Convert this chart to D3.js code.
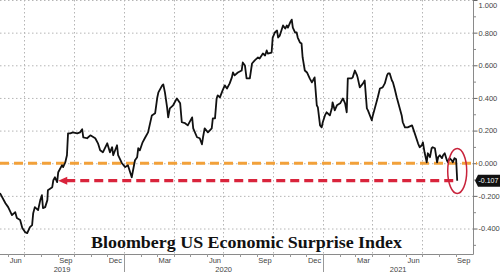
<!DOCTYPE html>
<html>
<head>
<meta charset="utf-8">
<script src="https://cdn.jsdelivr.net/npm/d3@7"></script>
<style>
  body { margin: 0; background: #fff; }
  svg { display: block; }
</style>
</head>
<body>
<div id="chart"></div>
<script>
// series
const dates = [
  "2019-05-18","2019-05-28","2019-06-02","2019-06-09","2019-06-15","2019-06-18","2019-06-24","2019-06-28",
  "2019-07-03","2019-07-07","2019-07-12","2019-07-16","2019-07-18","2019-07-21","2019-07-27","2019-07-31",
  "2019-08-03","2019-08-05","2019-08-09","2019-08-13","2019-08-14","2019-08-22","2019-08-24","2019-08-27",
  "2019-08-31","2019-09-02","2019-09-09","2019-09-11","2019-09-15","2019-09-18","2019-09-20","2019-09-24",
  "2019-09-29","2019-10-07","2019-10-12","2019-10-16","2019-10-18","2019-10-25","2019-10-31","2019-11-09",
  "2019-11-14","2019-11-18","2019-11-23","2019-12-01","2019-12-06","2019-12-10","2019-12-12","2019-12-19",
  "2019-12-21","2019-12-28","2020-01-03","2020-01-08","2020-01-15","2020-01-21","2020-01-25","2020-01-27",
  "2020-01-30","2020-02-04","2020-02-08","2020-02-14","2020-02-21","2020-02-27","2020-03-02","2020-03-04",
  "2020-03-11","2020-03-13","2020-03-16","2020-03-20","2020-03-22","2020-03-25","2020-03-31","2020-04-07",
  "2020-04-13","2020-04-16","2020-04-22","2020-04-27","2020-05-05","2020-05-07","2020-05-14","2020-05-19",
  "2020-05-23","2020-05-25","2020-05-28","2020-06-03","2020-06-10","2020-06-12","2020-06-16","2020-06-19",
  "2020-06-21","2020-06-25","2020-06-30","2020-07-04","2020-07-08","2020-07-13","2020-07-17","2020-07-19",
  "2020-07-22","2020-07-28","2020-08-04","2020-08-06","2020-08-10","2020-08-13","2020-08-19","2020-08-23",
  "2020-08-28","2020-09-03","2020-09-06","2020-09-12","2020-09-16","2020-09-19","2020-09-21","2020-09-28",
  "2020-09-30","2020-10-04","2020-10-08","2020-10-10","2020-10-13","2020-10-19","2020-10-23","2020-10-26",
  "2020-10-28","2020-11-01","2020-11-04","2020-11-06","2020-11-10","2020-11-13","2020-11-15","2020-11-19",
  "2020-11-22","2020-11-24","2020-11-28","2020-12-02","2020-12-07","2020-12-11","2020-12-13","2020-12-16",
  "2020-12-20","2020-12-22","2020-12-26","2020-12-29","2020-12-31","2021-01-04","2021-01-07","2021-01-09",
  "2021-01-13","2021-01-17","2021-01-18","2021-01-22","2021-01-26","2021-02-01","2021-02-04","2021-02-06",
  "2021-02-10","2021-02-13","2021-02-15","2021-02-22","2021-02-24","2021-02-28","2021-03-04","2021-03-05",
  "2021-03-09","2021-03-15","2021-03-18","2021-03-22","2021-03-24","2021-03-31","2021-04-02","2021-04-06",
  "2021-04-11","2021-04-15","2021-04-20","2021-04-24","2021-04-28","2021-04-30","2021-05-03","2021-05-07",
  "2021-05-09","2021-05-12","2021-05-16","2021-05-21","2021-05-25","2021-05-27","2021-05-31","2021-06-05",
  "2021-06-13","2021-06-18","2021-06-24","2021-06-27","2021-07-01","2021-07-03","2021-07-06","2021-07-10",
  "2021-07-12","2021-07-16","2021-07-19","2021-07-21","2021-07-25","2021-07-29","2021-07-31","2021-08-03",
  "2021-08-07","2021-08-09","2021-08-12","2021-08-16","2021-08-18","2021-08-21","2021-08-25","2021-08-27",
  "2021-08-30","2021-09-02","2021-09-04"
];
const values = [
  -0.183,-0.245,-0.269,-0.318,-0.300,-0.336,-0.348,-0.397,
  -0.422,-0.428,-0.391,-0.379,-0.306,-0.269,-0.287,-0.226,
  -0.196,-0.275,-0.269,-0.226,-0.165,-0.147,-0.104,-0.086,
  -0.116,-0.055,-0.012,-0.024,0.006,0.049,0.183,0.183,
  0.189,0.183,0.189,0.208,0.159,0.153,0.171,0.153,
  0.122,0.079,0.067,0.122,0.067,0.098,0.049,0.110,
  0.049,0.000,-0.024,-0.012,-0.086,0.018,0.037,0.092,
  0.079,0.128,0.153,0.189,0.293,0.306,0.403,0.434,
  0.477,0.483,0.434,0.342,0.281,0.336,0.355,0.397,
  0.367,0.251,0.245,0.232,0.281,0.214,0.159,0.153,
  0.116,0.159,0.214,0.189,0.214,0.275,0.275,0.397,
  0.416,0.403,0.446,0.477,0.458,0.489,0.526,0.556,
  0.538,0.556,0.568,0.617,0.599,0.520,0.520,0.611,
  0.630,0.648,0.642,0.672,0.660,0.691,0.672,0.678,
  0.770,0.801,0.813,0.770,0.782,0.844,0.825,0.844,
  0.831,0.862,0.880,0.831,0.801,0.801,0.770,0.740,
  0.733,0.648,0.568,0.556,0.520,0.495,0.507,0.526,
  0.355,0.342,0.232,0.220,0.251,0.293,0.312,0.306,
  0.293,0.342,0.373,0.324,0.355,0.367,0.385,0.397,
  0.367,0.312,0.520,0.520,0.526,0.568,0.538,0.526,
  0.465,0.489,0.507,0.336,0.324,0.263,0.293,0.342,
  0.403,0.458,0.465,0.489,0.538,0.550,0.550,0.507,
  0.495,0.458,0.403,0.342,0.293,0.251,0.220,0.220,
  0.232,0.183,0.122,0.098,0.110,0.128,0.067,0.006,
  0.061,0.037,0.092,0.098,0.092,0.006,0.037,0.049,
  0.031,0.049,0.061,0.018,0.006,0.031,0.018,0.006,
  0.031,0.024,-0.107
];

// axis labels
const monthTicks = ["2019-06-15","2019-09-15","2019-12-15","2020-03-15","2020-06-15",
                    "2020-09-15","2020-12-15","2021-03-15","2021-06-15","2021-09-15"];
const quarterLines = ["2019-07-01","2019-10-01","2020-01-01","2020-04-01","2020-07-01",
                      "2020-10-01","2021-01-01","2021-04-01","2021-07-01"];
const yearBreaks = ["2020-01-01","2021-01-01"];
const yearLabels = ["2019","2020","2021"];
const yTicks = [-0.4, -0.2, 0, 0.2, 0.4, 0.6, 0.8, 1.0];
const yMinor = [-0.5, -0.3, -0.1, 0.1, 0.3, 0.5, 0.7, 0.9];
const lastValue = -0.107;
const arrowFrom = "2019-09-02";
const title = "Bloomberg US Economic Surprise Index";

const W = 500, H = 272;
const plotW = 473, plotH = 254;
const parse = d3.timeParse("%Y-%m-%d");
const data = dates.map((d, i) => ({ date: parse(d), value: values[i] }));

const svg = d3.select("#chart")
  .append("svg")
    .attr("width", W)
    .attr("height", H);

const x = d3.scaleTime()
  .domain([parse("2019-05-18"), parse("2021-10-03")])
  .range([0, plotW]);

const y = d3.scaleLinear()
  .domain([-0.55, 1.0])
  .range([plotH - 1, 0]);

// grid
svg.append("g")
  .selectAll("line")
  .data(yTicks)
  .enter()
  .append("line")
    .attr("x1", 0).attr("x2", plotW)
    .attr("y1", d => y(d) + 0.5).attr("y2", d => y(d) + 0.5)
    .attr("stroke", "#b5b5b5")
    .attr("stroke-dasharray", "1.5,2.5");

svg.append("g")
  .selectAll("line")
  .data(quarterLines.map(parse))
  .enter()
  .append("line")
    .attr("x1", d => Math.round(x(d)) + 0.5).attr("x2", d => Math.round(x(d)) + 0.5)
    .attr("y1", 0).attr("y2", plotH)
    .attr("stroke", "#b5b5b5")
    .attr("stroke-dasharray", "1.5,2.5");

// axes
svg.append("line")
  .attr("x1", 0).attr("x2", plotW + 0.5)
  .attr("y1", plotH + 0.5).attr("y2", plotH + 0.5)
  .attr("stroke", "#8a8a8a");

svg.append("line")
  .attr("x1", plotW + 0.5).attr("x2", plotW + 0.5)
  .attr("y1", 0).attr("y2", plotH + 0.5)
  .attr("stroke", "#8a8a8a");

const yAxis = svg.append("g")
  .attr("transform", "translate(" + (plotW + 0.5) + ",0)")
  .call(d3.axisRight(y).tickValues(yTicks).tickSize(4).tickPadding(1)
    .tickFormat(d => d.toFixed(3)));
yAxis.select(".domain").remove();
yAxis.selectAll("line").attr("stroke", "#666");
yAxis.selectAll("text")
  .attr("fill", "#444")
  .style("font", "7.5px 'Liberation Sans', Arial, sans-serif");
// top label would sit half outside the picture, nudge it in
yAxis.selectAll(".tick")
  .filter(d => d === 1.0)
  .select("text")
    .attr("dy", "0.95em");

svg.append("g")
  .selectAll("line")
  .data(yMinor)
  .enter()
  .append("line")
    .attr("x1", plotW).attr("x2", plotW + 3)
    .attr("y1", d => y(d) + 0.5).attr("y2", d => y(d) + 0.5)
    .attr("stroke", "#888");

// month ticks on the bottom axis
svg.append("g")
  .selectAll("line")
  .data(d3.timeMonth.range(parse("2019-06-01"), parse("2021-10-01")))
  .enter()
  .append("line")
    .attr("x1", d => Math.round(x(d)) + 0.5).attr("x2", d => Math.round(x(d)) + 0.5)
    .attr("y1", plotH).attr("y2", plotH + 3)
    .attr("stroke", "#999");

const xAxis = svg.append("g")
  .attr("transform", "translate(0," + plotH + ")")
  .call(d3.axisBottom(x).tickValues(monthTicks.map(parse)).tickSize(0).tickPadding(4)
    .tickFormat(d3.timeFormat("%b")));
xAxis.select(".domain").remove();
xAxis.selectAll("text")
  .attr("fill", "#444")
  .style("font", "7.5px 'Liberation Sans', Arial, sans-serif");

// year separators and labels
svg.append("g")
  .selectAll("line")
  .data(yearBreaks.map(parse))
  .enter()
  .append("line")
    .attr("x1", d => Math.round(x(d)) + 0.5).attr("x2", d => Math.round(x(d)) + 0.5)
    .attr("y1", plotH + 2).attr("y2", H)
    .attr("stroke", "#999");

const yearEdges = [0].concat(yearBreaks.map(d => x(parse(d))), [plotW]);
svg.append("g")
  .selectAll("text")
  .data(yearLabels)
  .enter()
  .append("text")
    .attr("x", (d, i) => (yearEdges[i] + yearEdges[i + 1]) / 2)
    .attr("y", H - 0.5)
    .attr("text-anchor", "middle")
    .attr("fill", "#444")
    .style("font", "7.5px 'Liberation Sans', Arial, sans-serif")
    .text(d => d);

// zero line
svg.append("line")
  .attr("x1", 0).attr("x2", plotW + 4)
  .attr("y1", y(0)).attr("y2", y(0))
  .attr("stroke", "#f2a13a")
  .attr("stroke-width", 3)
  .attr("stroke-dasharray", "9,5");

// the index
const line = d3.line()
  .x(d => x(d.date))
  .y(d => y(d.value));

svg.append("path")
  .datum(data)
  .attr("fill", "none")
  .attr("stroke", "#111")
  .attr("stroke-width", 1.8)
  .attr("stroke-linejoin", "round")
  .attr("d", line);

// red arrow back to the last time it was this low
const last = data[data.length - 1];
const yl = y(lastValue);
const tip = x(parse(arrowFrom));
svg.append("line")
  .attr("x1", tip + 8).attr("x2", x(last.date))
  .attr("y1", yl).attr("y2", yl)
  .attr("stroke", "#d9243c")
  .attr("stroke-width", 3.2)
  .attr("stroke-dasharray", "9,5");
svg.append("path")
  .attr("d", "M" + tip + "," + yl + "L" + (tip + 9) + "," + (yl - 4) + "L" + (tip + 9) + "," + (yl + 4) + "Z")
  .attr("fill", "#d9243c");

// circle round the latest drop
svg.append("ellipse")
  .attr("cx", x(last.date))
  .attr("cy", (y(0.09) + y(-0.185)) / 2)
  .attr("rx", 9.5)
  .attr("ry", (y(-0.185) - y(0.09)) / 2)
  .attr("fill", "none")
  .attr("stroke", "#c8233b")
  .attr("stroke-width", 1.5);

// last value tag
svg.append("path")
  .attr("d", "M" + (plotW + 2) + "," + yl + "L" + (plotW + 5) + "," + (yl - 6) +
             "L" + W + "," + (yl - 6) + "L" + W + "," + (yl + 6) +
             "L" + (plotW + 5) + "," + (yl + 6) + "Z")
  .attr("fill", "#111");
svg.append("text")
  .attr("x", plotW + 5.5)
  .attr("y", yl + 2.6)
  .attr("fill", "#fff")
  .style("font", "7px 'Liberation Sans', Arial, sans-serif")
  .text(lastValue.toFixed(3));

// title
svg.append("text")
  .attr("x", 91)
  .attr("y", 248)
  .attr("textLength", 311)
  .attr("lengthAdjust", "spacingAndGlyphs")
  .attr("fill", "#111")
  .style("font", "bold 17px 'Liberation Serif', 'Times New Roman', serif")
  .text(title);
</script>
</body>
</html>
